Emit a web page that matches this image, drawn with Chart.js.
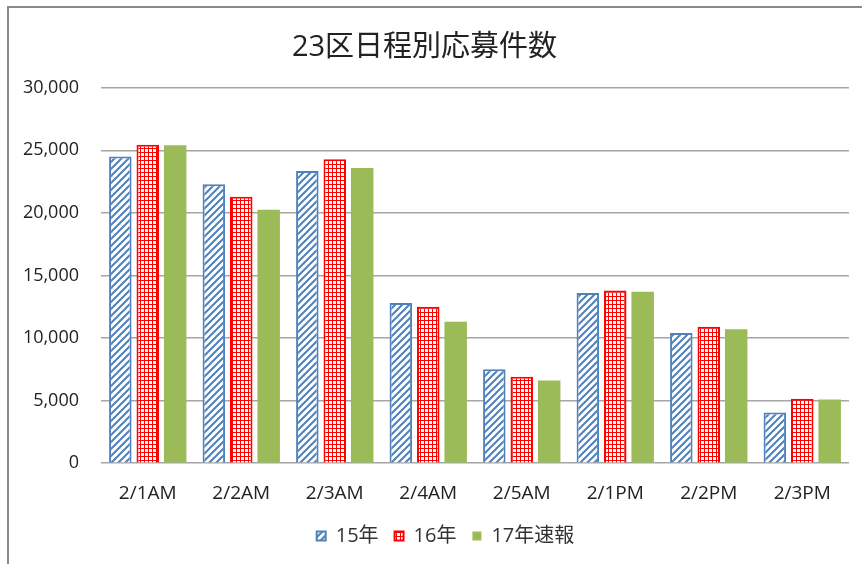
<!DOCTYPE html>
<html><head><meta charset="utf-8">
<script src="https://cdn.jsdelivr.net/npm/chart.js@4.4.1/dist/chart.umd.min.js"></script>
<style>
html,body{margin:0;padding:0;background:#fff;overflow:hidden;}
#wrap{position:relative;width:862px;height:564px;}
#frame{position:absolute;left:7px;top:6px;width:900px;height:600px;border-left:2px solid #8a8a8a;border-top:2px solid #8a8a8a;}
canvas{position:absolute;left:0;top:0;}
</style></head>
<body><div id="wrap"><div id="frame"></div><canvas id="c" width="862" height="564"></canvas></div>
<script>
const categories = ['2/1AM','2/2AM','2/3AM','2/4AM','2/5AM','2/1PM','2/2PM','2/3PM'];
const seriesNames = ['15年','16年','17年速報'];
const y15 = [24500, 22300, 23350, 12800, 7500, 13600, 10400, 4050];
const y16 = [25450, 21300, 24300, 12500, 6900, 13800, 10900, 5150];
const y17 = [25400, 20250, 23600, 11300, 6600, 13700, 10700, 5100];
const yMax = 30000, yStep = 5000;
const title = '23区日程別応募件数';

const FONT = "'Open Sans','Noto Sans CJK JP',sans-serif";
const blue = '#4F81BD', red = '#FF0000', green = '#9BBB59';

function stripePattern(){
  const s = 7, c = document.createElement('canvas'); c.width = s; c.height = s;
  const x = c.getContext('2d');
  x.fillStyle = '#fff'; x.fillRect(0,0,s,s);
  x.strokeStyle = blue; x.lineWidth = 2;
  x.beginPath();
  x.moveTo(-1, s+1); x.lineTo(s+1, -1);
  x.moveTo(-1, 1); x.lineTo(1, -1);
  x.moveTo(s-1, s+1); x.lineTo(s+1, s-1);
  x.stroke();
  return x.createPattern(c, 'repeat');
}
function gridPattern(){
  const s = 4, c = document.createElement('canvas'); c.width = s; c.height = s;
  const x = c.getContext('2d');
  x.fillStyle = '#fff'; x.fillRect(0,0,s,s);
  x.fillStyle = red; x.fillRect(0,0,s,1); x.fillRect(0,0,1,s);
  return x.createPattern(c, 'repeat');
}

const legendShift = {
  id: 'legendShift',
  afterLayout(chart){ if (chart.legend){ chart.legend.left += 21; chart.legend.right += 21; } }
};

const ctx = document.getElementById('c').getContext('2d');
new Chart(ctx, {
  type: 'bar',
  data: {
    labels: categories,
    datasets: [
      {label: seriesNames[0], data: y15, backgroundColor: stripePattern(), borderColor: blue, borderWidth: 2},
      {label: seriesNames[1], data: y16, backgroundColor: gridPattern(), borderColor: red, borderWidth: 2},
      {label: seriesNames[2], data: y17, backgroundColor: green, borderColor: green, borderWidth: 0}
    ]
  },
  plugins: [legendShift],
  options: {
    responsive: false,
    animation: false,
    devicePixelRatio: 1,
    categoryPercentage: 0.88,
    barPercentage: 0.82,
    layout: {padding: {left: 0, right: 13, top: 0, bottom: 8}},
    plugins: {
      title: {display: true, text: title, color: '#222', font: {family: FONT, size: 29, weight: 'normal'}, padding: {top: 30, bottom: 23}},
      legend: {
        position: 'bottom',
        labels: {boxWidth: 9, boxHeight: 9, padding: 16, color: '#333', font: {family: FONT, size: 20}}
      },
      tooltip: {enabled: false}
    },
    scales: {
      x: {
        afterFit: s => { s.height -= 14; },
        grid: {display: false, drawTicks: false},
        border: {display: false},
        ticks: {color: '#222', padding: 19, font: {family: FONT, size: 19}}
      },
      y: {
        min: 0, max: yMax,
        afterFit: s => { s.width = 101; },
        grid: {color: '#A6A6A6', lineWidth: 1.5, drawTicks: false},
        border: {display: false},
        ticks: {stepSize: yStep, padding: 22, color: '#222', font: {family: FONT, size: 18},
          callback: v => v.toLocaleString('en-US')}
      }
    }
  }
});
</script></body></html>
